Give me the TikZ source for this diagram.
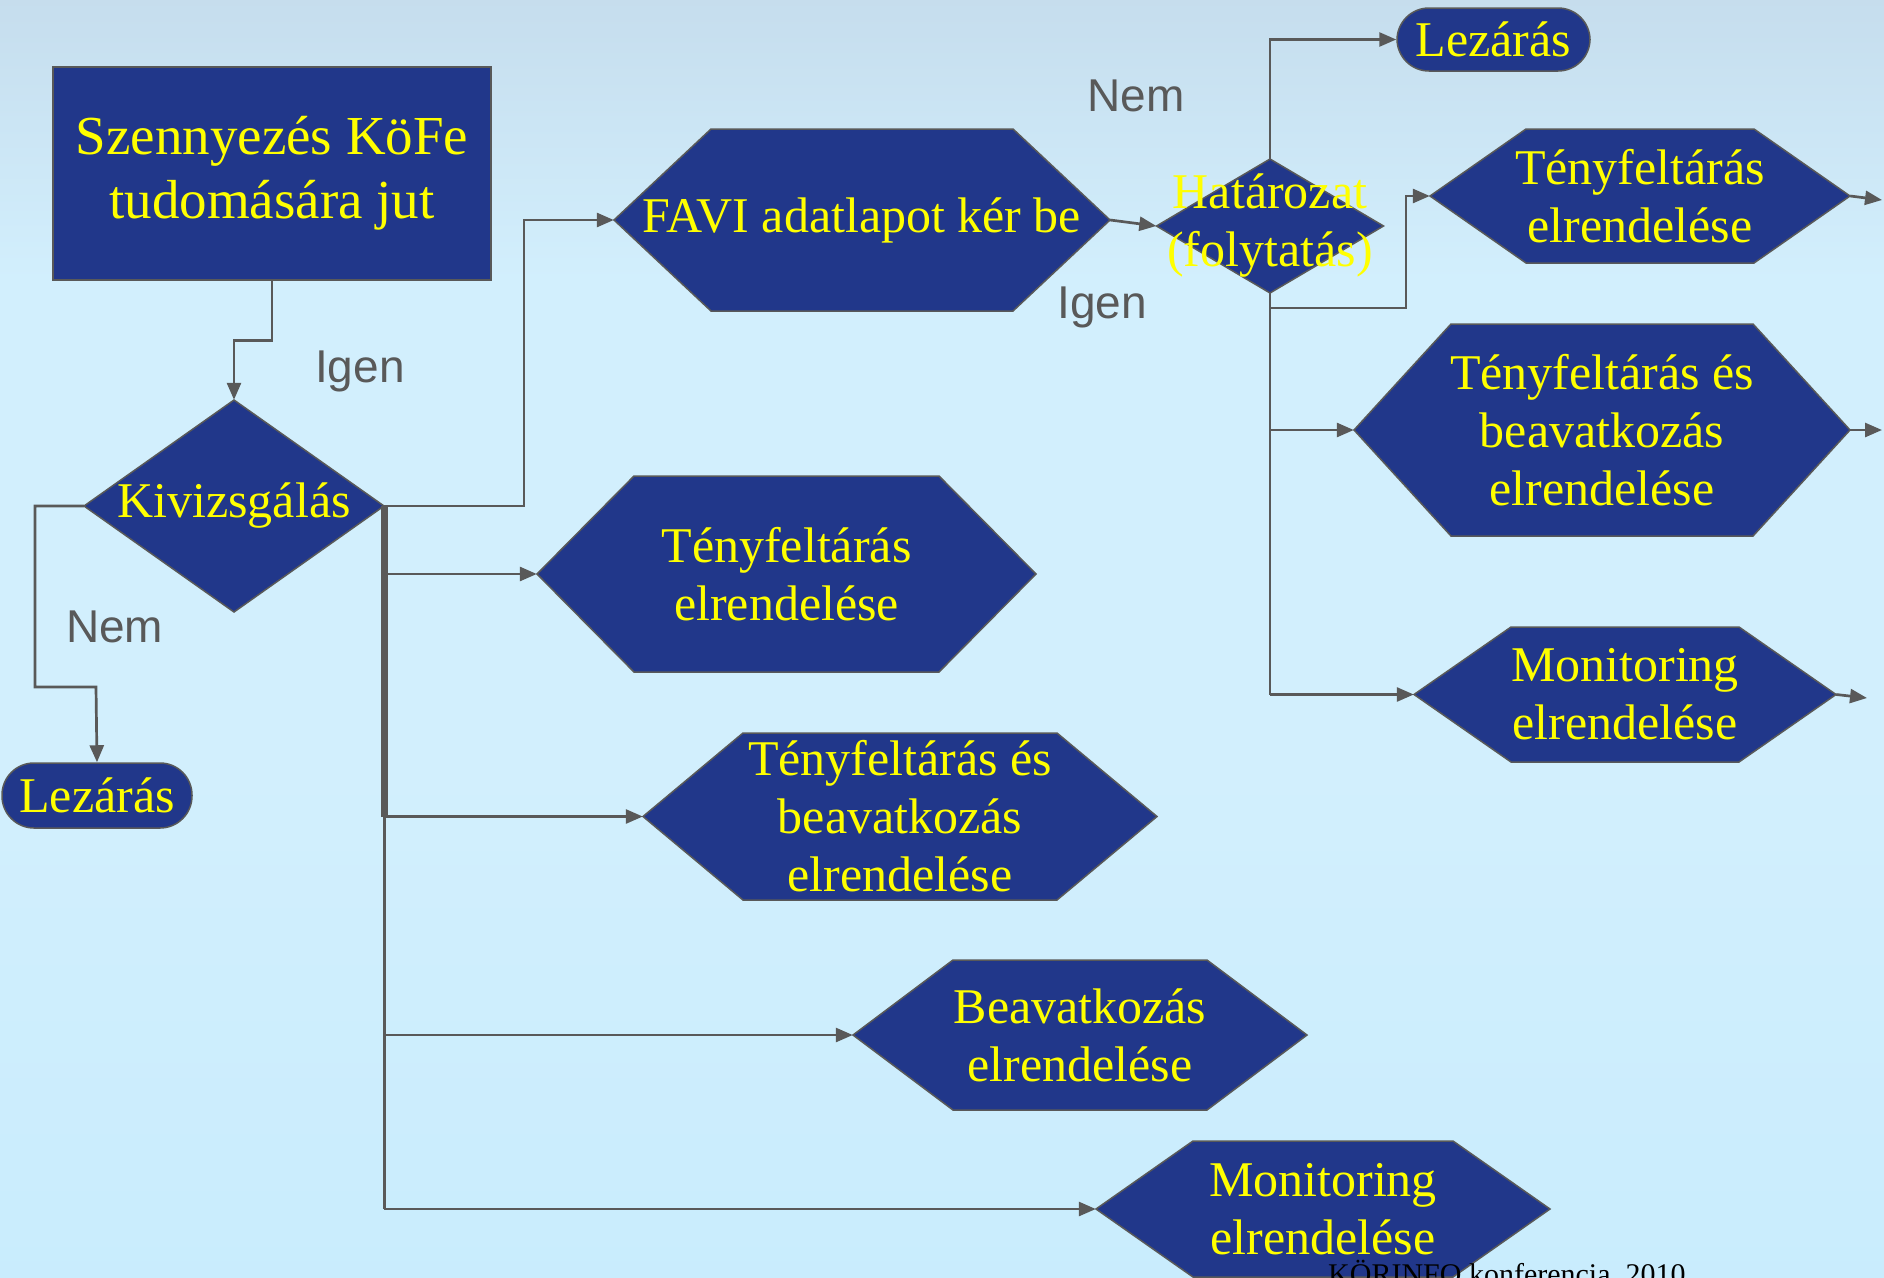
\documentclass[tikz,border=0pt]{standalone}
\usepackage{fontspec}
\setmainfont{Liberation Serif}
\newfontfamily\labelfont{Liberation Sans}
\usetikzlibrary{arrows.meta,calc}
\definecolor{nodeblue}{HTML}{21378A}
\definecolor{linegray}{HTML}{595959}
\definecolor{txtyellow}{HTML}{FFFF00}
\definecolor{bgtop}{HTML}{B6C9DA}
\definecolor{bgupper}{HTML}{C0D5E6}
\definecolor{bgmid}{HTML}{D2EFFD}
\definecolor{bglow}{HTML}{C4EBFD}
\definecolor{bgbot}{HTML}{A8E0FC}
\pgfdeclareverticalshading{bgshade}{100bp}{color(0bp)=(bgbot); color(14bp)=(bglow); color(45bp)=(bgmid); color(64bp)=(bgmid); color(80bp)=(bgupper); color(100bp)=(bgtop)}
\tikzset{
  shapefill/.style={fill=nodeblue, draw=linegray, line width=1.5pt, line join=miter},
  shapetext/.style={draw=none, inner sep=0pt, align=center, text=txtyellow, font=\fontsize{50}{58}\selectfont},
  boxnode/.style={shapefill, rectangle, inner sep=0pt, align=center, text=txtyellow, font=\fontsize{55}{64}\selectfont},
  pill/.style={shapefill, rectangle, rounded corners=32pt, inner sep=0pt, text=txtyellow, font=\fontsize{50}{58}\selectfont},
  conn/.style={draw=linegray, line width=2.7pt},
  arr/.style={conn, -{Triangle[length=17pt,width=14pt]}},
  trunkline/.style={draw=linegray, line width=7pt},
  lbl/.style={text=linegray, font=\labelfont\fontsize{46}{50}\selectfont, anchor=base west, inner sep=0pt},
}
% hexagon: name, cx, cy, width, height, indent, text
\newcommand\hexshape[7]{%
  \filldraw[shapefill] ({#2-#4/2},#3) -- ({#2-#4/2+#6},{#3-#5/2}) -- ({#2+#4/2-#6},{#3-#5/2}) -- ({#2+#4/2},#3) -- ({#2+#4/2-#6},{#3+#5/2}) -- ({#2-#4/2+#6},{#3+#5/2}) -- cycle;
  \node[shapetext, minimum width=#4pt, minimum height=#5pt] (#1) at (#2,#3) {#7};
}
% diamond: name, cx, cy, width, height, text
\newcommand\diashape[6]{%
  \filldraw[shapefill] ({#2-#4/2},#3) -- (#2,{#3-#5/2}) -- ({#2+#4/2},#3) -- (#2,{#3+#5/2}) -- cycle;
  \node[shapetext, minimum width=#4pt, minimum height=#5pt] (#1) at (#2,#3) {#6};
}
\begin{document}
\begin{tikzpicture}[x=1pt,y=-1pt]
\useasboundingbox (0,0) rectangle (1884,1277);
\clip (0,0) rectangle (1884,1277);
\fill[shading=bgshade] (0,0) rectangle (1884,1277);

% left part
\node[boxnode, minimum width=438pt, minimum height=213pt] (box) at (272,173.5) {Szennyezés KöFe\\tudomására jut};
\diashape{kiv}{234}{506}{300}{212}{Kivizsgálás}
\node[pill, minimum width=190pt, minimum height=65pt] (lez1) at (97,795.5) {Lezárás};

\hexshape{favi}{862}{220}{496}{182}{97}{FAVI adatlapot kér be}
\hexshape{L1}{786.5}{574}{499}{196}{97}{Tényfeltárás\\elrendelése}
\hexshape{L2}{900}{816.5}{514}{167}{100}{Tényfeltárás és\\beavatkozás\\elrendelése}
\hexshape{L3}{1080}{1035}{454}{150}{100}{Beavatkozás\\elrendelése}
\hexshape{L4}{1323}{1209}{454}{136}{97}{Monitoring\\elrendelése}

% right part
\diashape{hat}{1270}{226}{227}{134}{Határozat\\(folytatás)}
\node[pill, minimum width=193pt, minimum height=63pt] (lez2) at (1493.5,39.5) {Lezárás};
\hexshape{R1}{1640}{196}{420}{134}{96}{Tényfeltárás\\elrendelése}
\hexshape{R2}{1602}{430}{496}{212}{97}{Tényfeltárás és\\beavatkozás\\elrendelése}
\hexshape{R3}{1625}{694.5}{422}{135}{97}{Monitoring\\elrendelése}

\coordinate (o1) at (1882,200);
\coordinate (o2) at (1882,430);
\coordinate (o3) at (1867,698);

% connectors left
\draw[arr] (box.south) -- ++(0,60) -| (kiv.north);
\draw[arr] (kiv.west) -- (35,506) |- (96,687) -- (lez1.north);
\draw[arr] (kiv.east) -- (524,506) |- (favi.west);
\draw[trunkline] (kiv.east) -- (kiv.east |- L2.west);
\draw[conn] (kiv.east |- L2.west) -- (kiv.east |- L4.west);
\draw[arr] (kiv.east |- L1.west) -- (L1.west);
\draw[arr] (kiv.east |- L2.west) -- (L2.west);
\draw[arr] (kiv.east |- L3.west) -- (L3.west);
\draw[arr] (kiv.east |- L4.west) -- (L4.west);

% connectors right
\draw[arr] (favi.east) -- (hat.west);
\draw[arr] (hat.north) |- (lez2.west);
\draw[arr] (hat.south) -- (1270,308) -| (1406,196) -- (R1.west);
\draw[conn] (hat.south) -- (hat.south |- R3.west);
\draw[arr] (hat.south |- R2.west) -- (R2.west);
\draw[arr] (hat.south |- R3.west) -- (R3.west);
\draw[arr] (R1.east) -- (o1);
\draw[arr] (R2.east) -- (o2);
\draw[arr] (R3.east) -- (o3);

% labels
\node[lbl] (igen1) at (315,382) {Igen};
\node[lbl] (nem1) at (66,642) {Nem};
\node[lbl] (nem2) at (1087,111) {Nem};
\node[lbl] (igen2) at (1057,318) {Igen};

\node[anchor=base west, inner sep=0pt, font=\fontsize{30}{36}\selectfont] (foot) at (1328,1284) {KÖRINFO konferencia, 2010};
\end{tikzpicture}
\end{document}
